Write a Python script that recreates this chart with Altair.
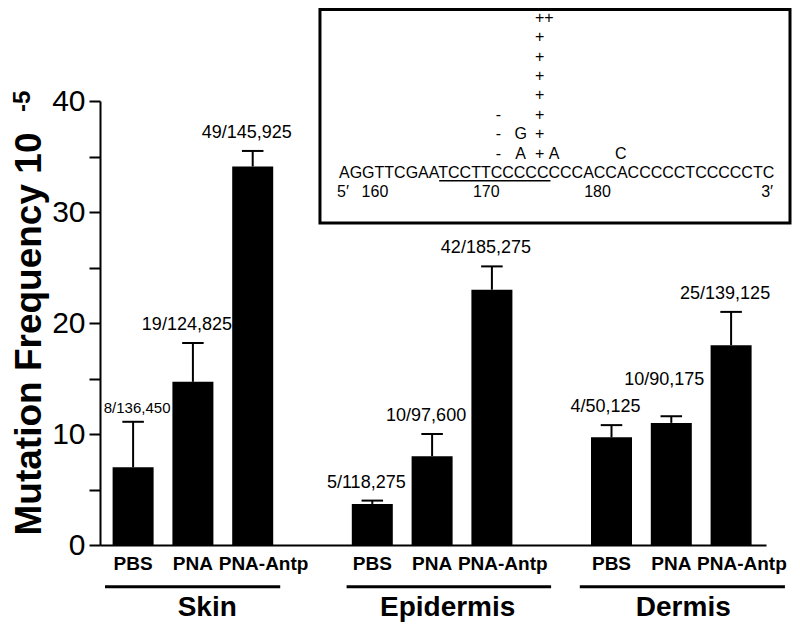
import altair as alt
import pandas as pd

FONT = "Liberation Sans"

# ---- main bar data ----
groups = ["Skin", "Epidermis", "Dermis"]
treatments = ["PBS", "PNA", "PNA-Antp"]
frequency = [7.0, 14.7, 34.1, 3.7, 8.0, 23.0, 9.7, 11.0, 18.0]
error_top = [11.1, 18.2, 35.5, 4.0, 10.0, 25.1, 10.8, 11.6, 21.0]
counts = ["8/136,450", "19/124,825", "49/145,925", "5/118,275", "10/97,600",
          "42/185,275", "4/50,125", "10/90,175", "25/139,125"]

# group underline extents and label centres (in bar-slot units)
group_line_start = [-0.47, 3.57, 7.47]
group_line_end = [2.46, 6.99, 10.9]
group_label_at = [1.24, 5.26, 9.2]

# ---- inset data (sequence) ----
sequence = "AGGTTCGAATCCTTCCCCCCCCACCACCCCCTCCCCCTC"
seq_start = 157
seq_end = 196
target_site = [166, 176]          # underlined TCCTTCCCCC
position_ticks = [160, 170, 180]
mut_pos = [171, 171, 171, 173, 173, 175, 175, 175, 175, 175, 175, 175, 175, 176, 182]
mut_row = [1, 2, 3, 1, 2, 1, 2, 3, 4, 5, 6, 7, 8, 1, 1]
mut_sym = ["-", "-", "-", "A", "G", "+", "+", "+", "+", "+", "+", "+", "++", "A", "C"]

rows = []
for gi, g in enumerate(groups):
    for ti, t in enumerate(treatments):
        k = gi * 3 + ti
        rows.append({"group": g, "treatment": t, "tix": ti, "slot": gi * 4 + ti,
                     "freq": frequency[k], "err": error_top[k], "count": counts[k]})
df = pd.DataFrame(rows)
slots = df["slot"].tolist()

gdf = pd.DataFrame({"group": groups, "x0": group_line_start,
                    "x1": group_line_end, "lx": group_label_at})

xscale = alt.Scale(domain=[-0.47, 10.5], nice=False, zero=False)
yscale = alt.Scale(domain=[0, 40], nice=False, zero=True)

base = alt.Chart(df)

bars = base.mark_bar(color="black", size=41).encode(
    x=alt.X("slot:Q", scale=xscale,
            axis=alt.Axis(values=slots, labels=False,
                          ticks=False, tickSize=0, grid=False, title=None,
                          domainColor="black", domainWidth=2)),
    y=alt.Y("freq:Q", scale=yscale,
            axis=alt.Axis(values=list(range(0, 41, 5)),
                          labelExpr="datum.value % 10 === 0 ? datum.label : ''",
                          tickSize=11, tickWidth=2, tickColor="black",
                          domainColor="black", domainWidth=2, grid=False,
                          labelFont=FONT, labelFontSize=30, labelColor="black",
                          labelPadding=4,
                          title="Mutation Frequency 10", titleFont=FONT,
                          titleFontSize=37, titleFontWeight="bold",
                          titleColor="black", titleAngle=270, titleAlign="left",
                          titleBaseline="alphabetic", titleX=-60, titleY=434)),
)

err = base.mark_rule(color="black", strokeWidth=2).encode(
    x="slot:Q", y="freq:Q", y2="err:Q")

caps = base.transform_calculate(
    xl="datum.slot - 0.18", xr="datum.slot + 0.18"
).mark_rule(color="black", strokeWidth=2).encode(
    x="xl:Q", x2="xr:Q", y="err:Q")

labels = base.transform_filter("datum.slot != 0 && datum.slot != 9").mark_text(
    font=FONT, fontSize=18, baseline="alphabetic", dy=-13, dx=-6, color="black"
).encode(x="slot:Q", y="err:Q", text="count:N")

label_small = base.transform_filter("datum.slot == 0").mark_text(
    font=FONT, fontSize=15, baseline="alphabetic", dy=-9, dx=4, color="black"
).encode(x="slot:Q", y="err:Q", text="count:N")

label_raised = base.transform_filter("datum.slot == 9").mark_text(
    font=FONT, fontSize=18, baseline="alphabetic", dy=-31, dx=-7, color="black"
).encode(x="slot:Q", y="err:Q", text="count:N")

# treatment names under the bars
tnames = base.transform_filter("datum.tix < 2").mark_text(
    font=FONT, fontSize=19, fontWeight="bold", baseline="alphabetic", color="black"
).encode(x="slot:Q", y=alt.datum(-2.25), text="treatment:N")
tnames_long = base.transform_filter("datum.tix == 2").mark_text(
    font=FONT, fontSize=19, fontWeight="bold", baseline="alphabetic", align="left",
    dx=-34, color="black"
).encode(x="slot:Q", y=alt.datum(-2.25), text="treatment:N")

gbase = alt.Chart(gdf)
underlines = gbase.mark_rule(color="black", strokeWidth=3).encode(
    x="x0:Q", x2="x1:Q", y=alt.datum(-3.76))
glabels = gbase.mark_text(font=FONT, fontSize=28, fontWeight="bold",
                          baseline="alphabetic", color="black").encode(
    x="lx:Q", y=alt.datum(-6.4), text="group:N")

sup = alt.Chart(pd.DataFrame({"t": ["-5"]})).mark_text(
    font=FONT, fontSize=24, fontWeight="bold", angle=270, align="left",
    baseline="alphabetic", color="black"
).encode(x=alt.value(-70), y=alt.value(11), text="t:N")

main = alt.layer(bars, err, caps, labels, label_small, label_raised,
                 tnames, tnames_long, underlines, glabels, sup)

# ---- inset ----
ix = alt.Scale(domain=[135.527, 195.364], nice=False, zero=False)
iy = alt.Scale(domain=[-18.175, 4.711], nice=False, zero=False)

box = alt.Chart(pd.DataFrame({"p0": [155.29], "p1": [197.52],
                              "r0": [-1.577], "r1": [9.43]})).mark_rect(
    fill="white", stroke="black", strokeWidth=3).encode(
    x=alt.X("p0:Q", scale=ix, axis=None), x2="p1:Q",
    y=alt.Y("r0:Q", scale=iy, axis=None), y2="r1:Q")

seq_text = alt.Chart(pd.DataFrame({"p": [seq_start], "r": [1], "s": [sequence]})).mark_text(
    font=FONT, fontSize=16, align="left", baseline="middle", color="black").encode(
    x=alt.X("p:Q", scale=ix, axis=None), y=alt.Y("r:Q", scale=iy, axis=None), text="s:N")

site_line = alt.Chart(pd.DataFrame({"a": [target_site[0]], "b": [target_site[1]]})).mark_rule(
    color="black", strokeWidth=1.3).encode(
    x=alt.X("a:Q", scale=ix, axis=None), x2="b:Q",
    y=alt.Y(datum=0.6, scale=iy, axis=None))

nums = alt.Chart(pd.DataFrame({"n": position_ticks})).transform_calculate(
    p="datum.n + 0.5", r="0", t="datum.n + ''").mark_text(
    font=FONT, fontSize=16, baseline="middle", dx=-3, color="black").encode(
    x=alt.X("p:Q", scale=ix, axis=None), y=alt.Y("r:Q", scale=iy, axis=None), text="t:N")

ends = alt.Chart(pd.DataFrame({"p": [seq_start, seq_end], "t": ["5\u2032", "3\u2032"],
                               "al": ["left", "right"]}))
end5 = ends.transform_filter("datum.al == 'left'").mark_text(
    font=FONT, fontSize=16, baseline="middle", align="left", dx=-2, color="black").encode(
    x=alt.X("p:Q", scale=ix, axis=None), y=alt.Y(datum=0, scale=iy, axis=None), text="t:N")
end3 = ends.transform_filter("datum.al == 'right'").mark_text(
    font=FONT, fontSize=16, baseline="middle", align="right", color="black").encode(
    x=alt.X("p:Q", scale=ix, axis=None), y=alt.Y(datum=0, scale=iy, axis=None), text="t:N")

mbase = alt.Chart(pd.DataFrame({"pos": mut_pos, "row": mut_row, "sym": mut_sym})).transform_calculate(
    p="datum.pos + 0.5", r="datum.row + 1")
muts = mbase.transform_filter("indexof(datum.sym, '+') < 0").mark_text(
    font=FONT, fontSize=16, baseline="middle", dx=-2, color="black").encode(
    x=alt.X("p:Q", scale=ix, axis=None), y=alt.Y("r:Q", scale=iy, axis=None), text="sym:N")
plus = mbase.transform_filter("indexof(datum.sym, '+') >= 0").mark_text(
    font=FONT, fontSize=16, baseline="middle", align="left", dx=-10, color="black").encode(
    x=alt.X("p:Q", scale=ix, axis=None), y=alt.Y("r:Q", scale=iy, axis=None), text="sym:N")

inset = alt.layer(box, seq_text, site_line, nums, end5, end3, muts, plus)

chart = alt.layer(main, inset).resolve_scale(
    x="independent", y="independent"
).properties(
    width=666, height=444,
    autosize=alt.AutoSizeParams(type="none"),
    padding={"left": 92, "top": 93, "right": 26, "bottom": 77},
).configure_view(stroke="transparent")

chart.save("out.html", embed_options={"renderer": "svg", "actions": False})
